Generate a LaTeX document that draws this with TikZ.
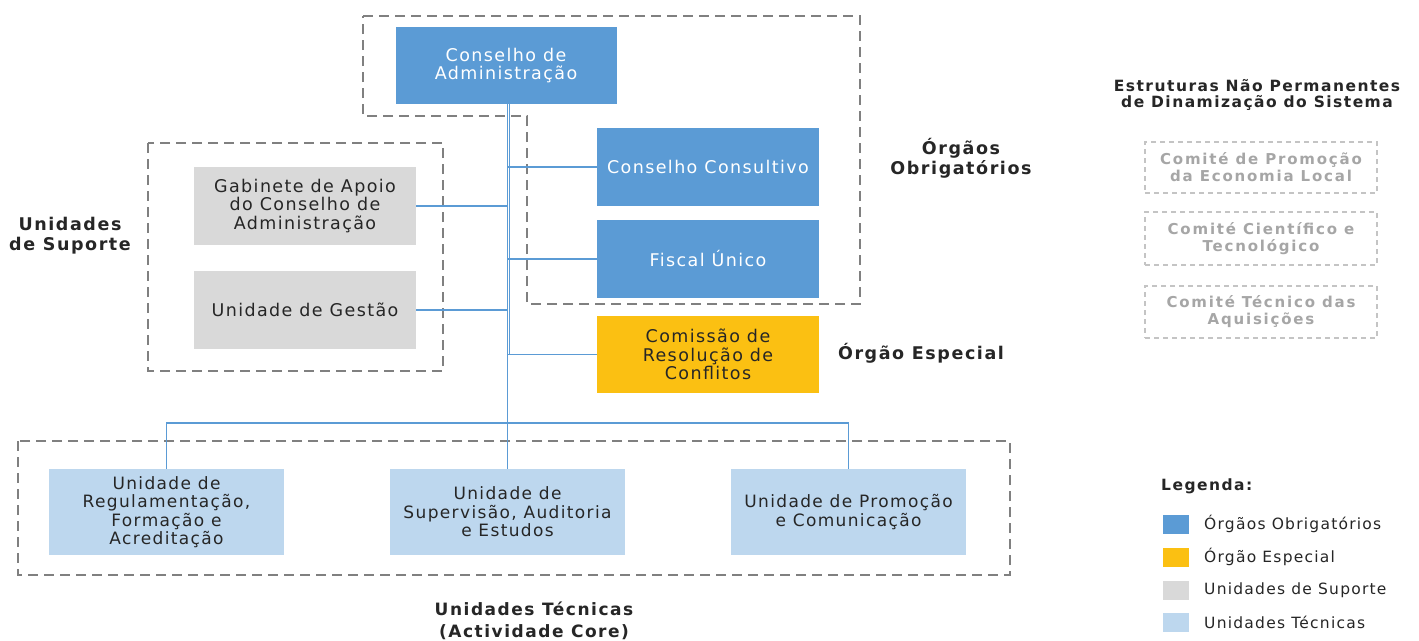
\documentclass[tikz,border=0pt]{standalone}
\usepackage{fontspec}
\setmainfont[LetterSpace=8]{DejaVu Sans}
\newfontfamily\labfont[LetterSpace=9]{DejaVu Sans Bold}
\newfontfamily\hdfont[LetterSpace=9.5]{DejaVu Sans Bold}
\newfontfamily\comfont[LetterSpace=12]{DejaVu Sans Bold}
\definecolor{cblue}{HTML}{5B9BD5}
\definecolor{cyel}{HTML}{FBC012}
\definecolor{cgray}{HTML}{D9D9D9}
\definecolor{clblue}{HTML}{BDD7EE}
\definecolor{cdash}{HTML}{808080}
\definecolor{cldash}{HTML}{C4C4C4}
\definecolor{ctxt}{HTML}{262626}
\definecolor{ccom}{HTML}{A6A6A6}
\tikzset{
  box/.style={inner sep=0pt, align=center, font=\fontsize{17.5}{18.5}\selectfont},
  obox/.style={box, fill=cblue, text=white, minimum width=222pt, minimum height=78pt},
  ybox/.style={box, fill=cyel, text=ctxt, minimum width=222pt, minimum height=77pt},
  gbox/.style={box, fill=cgray, text=ctxt, minimum width=222pt, minimum height=78pt},
  tbox/.style={box, fill=clblue, text=ctxt, minimum width=235pt, minimum height=86pt, font=\fontsize{17}{18.5}\selectfont},
  grp/.style={draw=cdash, line width=2pt, dash pattern=on 10pt off 6pt},
  conn/.style={draw=cblue, line width=1.3pt},
  lab/.style={align=center, text=ctxt, font=\labfont\fontsize{17.5}{20}\selectfont},
  combox/.style={draw=cldash, line width=1.5pt, dash pattern=on 5pt off 4pt, minimum width=232pt, inner sep=0pt, align=center, text=ccom, font=\comfont\fontsize{15}{17}\selectfont},
  sw/.style={minimum width=26pt, minimum height=19pt, inner sep=0pt},
  legt/.style={anchor=west, inner sep=0pt, text=ctxt, font=\fontsize{15.5}{17}\selectfont}
}
\begin{document}
\begin{tikzpicture}[x=1pt,y=-1pt]
\useasboundingbox[fill=white] (0,0) rectangle (1419,640);
% group outlines
\draw[grp] (363,16) -- (860,16) -- (860,304) -- (527,304) -- (527,116) -- (363,116) -- cycle;
\draw[grp] (148,143) rectangle (443,371);
\draw[grp] (18,441) rectangle (1010,575);
% nodes
\node[obox, minimum width=221pt, minimum height=77pt] (ca) at (506,65.5) {Conselho de\\Administração};
\node[obox] (cc) at (708,167) {Conselho Consultivo};
\node[obox] (fu) at (708,259) {Fiscal Único};
\node[ybox] (crc) at (708,354.5) {Comissão de\\Resolução de\\Conflitos};
\node[gbox] (gab) at (305,206) {Gabinete de Apoio\\do Conselho de\\Administração};
\node[gbox] (gest) at (305,310) {Unidade de Gestão};
\node[tbox] (t1) at (166.5,512) {Unidade de\\Regulamentação,\\Formação e\\Acreditação};
\node[tbox] (t2) at (507.5,512) {Unidade de\\Supervisão, Auditoria\\e Estudos};
\node[tbox] (t3) at (848.5,512) {Unidade de Promoção\\e Comunicação};
% connectors
\coordinate (bus) at (507.5,423);
\draw[conn] (ca.south -| t2.north) -- (t2.north);
\draw[conn] ([xshift=2.2pt]ca.south -| t2.north) -- ([xshift=2.2pt]crc.west -| t2.north);
\draw[conn] (cc.west) -- (cc.west -| t2.north);
\draw[conn] (fu.west) -- (fu.west -| t2.north);
\draw[conn] (crc.west) -- (crc.west -| t2.north);
\draw[conn] (gab.east) -- (gab.east -| t2.north);
\draw[conn] (gest.east) -- (gest.east -| t2.north);
\draw[conn] (t1.north) |- (bus) -| (t3.north);
% labels
\node[lab] (lorg) at (961,158) {Órgãos\\Obrigatórios};
\node[lab] (lsup) at (70,236) {Unidades\\de Suporte};
\node[lab] (lesp) at (921,353) {Órgão Especial};
\node[lab, font=\labfont\fontsize{17}{22}\selectfont] (ltec) at (534,621) {Unidades Técnicas\\(Actividade Core)};
\node[align=center, text=ctxt, font=\hdfont\fontsize{15.5}{16.5}\selectfont] (lest) at (1257,95) {Estruturas Não Permanentes\\de Dinamização do Sistema};
\node[combox, minimum height=51pt] (c1) at (1261,167.5) {Comité de Promoção\\da Economia Local};
\node[combox, minimum height=53pt] (c2) at (1261,238.5) {Comité Científico e\\Tecnológico};
\node[combox, minimum height=52pt] (c3) at (1261,312) {Comité Técnico das\\Aquisições};
% legend
\node[anchor=west, inner sep=0pt, text=ctxt, font=\hdfont\fontsize{15.5}{17}\selectfont] (leg) at (1161,486) {Legenda:};
\node[sw, fill=cblue] (s1) at (1176,524.5) {};
\node[sw, fill=cyel] (s2) at (1176,557.5) {};
\node[sw, fill=cgray] (s3) at (1176,590.5) {};
\node[sw, fill=clblue] (s4) at (1176,622.5) {};
\node[legt] (l1) at (1204,524) {Órgãos Obrigatórios};
\node[legt] (l2) at (1204,557) {Órgão Especial};
\node[legt] (l3) at (1204,590) {Unidades de Suporte};
\node[legt] (l4) at (1204,622) {Unidades Técnicas};
\end{tikzpicture}
\end{document}
